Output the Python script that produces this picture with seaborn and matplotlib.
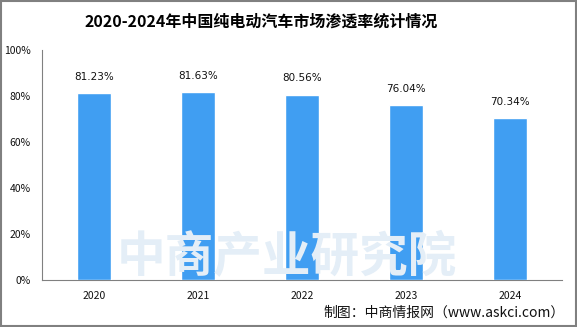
import matplotlib
matplotlib.use("Agg")
import matplotlib.pyplot as plt
import seaborn as sns
import pandas as pd
import numpy as np
from matplotlib.patches import Rectangle

years = ["2020", "2021", "2022", "2023", "2024"]
rates = [81.23, 81.63, 80.56, 76.04, 70.34]
yticks = [0, 20, 40, 60, 80, 100]
title = "2020-2024年中国纯电动汽车市场渗透率统计情况"
source = "制图：中商情报网（www.askci.com）"

sns.set_theme(style="white")
plt.rcParams['font.family'] = ['Noto Sans CJK SC', 'DejaVu Sans']

df = pd.DataFrame({"year": years, "rate": rates})

fig = plt.figure(figsize=(5.77, 3.27), dpi=100)
ax = fig.add_axes([42/577, 1-280/327, (562-42)/577, 230/327])

# watermark
fig.text(287/577, 1-258/327, "中商产业研究院", ha="center", va="center",
         fontsize=35, color="#e4eef7", fontweight="bold", zorder=0)

sns.barplot(data=df, x="year", y="rate", color="#409EF2", width=0.32,
            saturation=1, ax=ax, zorder=3)

for i, v in enumerate(rates):
    ax.text(i, v + 5, f"{v:.2f}%", ha="center", va="bottom",
            fontsize=7.5, color="#111111", family=['DejaVu Sans'])

ax.set_ylim(0, 100)
ax.set_xlim(-0.5, len(years) - 0.5)
ax.set_yticks(yticks)
ax.set_yticklabels([f"{t}%" for t in yticks], fontsize=7.5, color="#111111")
ax.set_xticks(range(len(years)))
ax.set_xticklabels(years, fontsize=7.5, color="#111111")
ax.set_xticks(np.arange(-0.5, len(years)), minor=True)
ax.tick_params(axis="x", which="major", length=0, pad=8)
ax.tick_params(axis="x", which="minor", length=5, color="#808080", width=0.8, direction="out")
ax.tick_params(axis="y", length=4, color="#808080", width=0.8, direction="out", pad=4)
ax.set_xlabel("")
ax.set_ylabel("")
for s in ["top", "right"]:
    ax.spines[s].set_visible(False)
for s in ["left", "bottom"]:
    ax.spines[s].set_color("#808080")
    ax.spines[s].set_linewidth(0.8)
ax.patch.set_alpha(0)

fig.text(261/577, 1-22/327, title, ha="center", va="center", fontsize=11.5,
         fontweight="bold", color="#000000")
fig.text(565/577, 1-313/327, source, ha="right", va="center", fontsize=10,
         color="#111111")

fig.patches.append(Rectangle((0.001, 0.002), 0.997, 0.996, transform=fig.transFigure,
                             fill=False, edgecolor="#808080", linewidth=1.5))

fig.savefig("out.png", dpi=100)
